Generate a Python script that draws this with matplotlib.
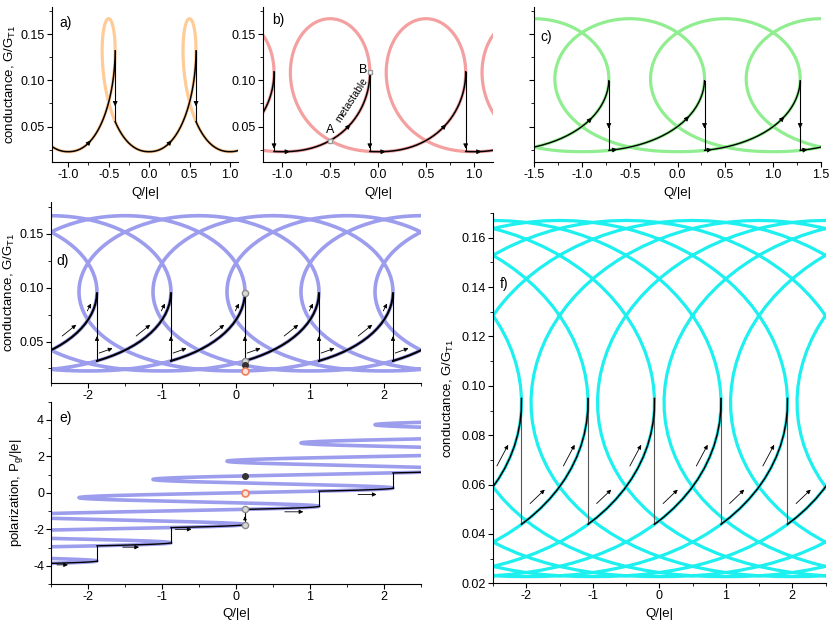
import numpy as np
import matplotlib
matplotlib.use('Agg')
import matplotlib.pyplot as plt
from matplotlib.ticker import MultipleLocator

plt.rcParams['font.family'] = ['Liberation Sans', 'DejaVu Sans']
plt.rcParams['font.size'] = 9
plt.rcParams['axes.unicode_minus'] = False

# ---- values ---------------------------------------------------------------
# sideways swing of Q over a quarter of one loop (1 = widest point)
swing_quarter = [0.0000, 0.0654, 0.1305, 0.1951, 0.2588, 0.3214, 0.3827, 0.4423,
                 0.5000, 0.5556, 0.6088, 0.6593, 0.7071, 0.7518, 0.7934, 0.8315,
                 0.8660, 0.8969, 0.9239, 0.9469, 0.9659, 0.9808, 0.9914, 0.9979, 1.0000]
# conductance over half a loop, 0 = bottom line, 1 = top line
g_profile_half = [0.0000, 0.0005, 0.0025, 0.0060, 0.0113, 0.0185, 0.0274, 0.0383,
                  0.0511, 0.0658, 0.0824, 0.1007, 0.1209, 0.1427, 0.1662, 0.1912,
                  0.2176, 0.2454, 0.2744, 0.3045, 0.3356, 0.3674, 0.4000, 0.4331,
                  0.4665, 0.5002, 0.5339, 0.5676, 0.6009, 0.6339, 0.6663, 0.6979,
                  0.7287, 0.7585, 0.7871, 0.8144, 0.8402, 0.8644, 0.8869, 0.9077,
                  0.9266, 0.9434, 0.9582, 0.9709, 0.9813, 0.9894, 0.9953, 0.9988, 1.0000]
g_bottom, g_top = 0.0227, 0.167

# swing amplitude of each panel (fixed by where the jumps sit)
swing_a, swing_b, swing_c, swing_d, swing_f = 0.285, 0.645, 1.02, 1.865, 3.675

# arrowheads riding on the black path (Q positions)
a_heads = [-0.72, 0.28]
b_heads = [-0.92, 0.08, 1.08, -0.29, 0.71]
c_heads = [-0.895, 0.12, 1.115, -0.63, 0.36, 1.36]
# guide arrows beside the path: start/end, counted from the start of each step
d_guides = [(0.06, 0.24), (0.56, 0.75), (0.90, 0.95)]
f_guides = [(0.16, 0.38), (0.66, 0.83)]
# guide arrows in e: start Q, end Q, P
e_arrow_q0 = [-2.42, -1.53, -0.82, 0.66, 1.65]
e_arrow_q1 = [-2.27, -1.31, -0.60, 0.91, 1.90]
e_arrow_p = [-3.95, -2.98, -2.00, -1.04, -0.09]
# states marked at the jump near Q = 0.1 (branch index)
mark_branch = [-2, -1, 0, 1]

col_a, col_b, col_c, col_d, col_f = '#FFCB96', '#F4A0A0', '#90EE90', '#9D9DEE', '#1EF0F0'

# ---- loop tables ------------------------------------------------------------
N = 96
sq = np.array(swing_quarter)
half = np.r_[sq, sq[-2::-1]]
swing = np.r_[half, -half[1:]]
gp = np.array(g_profile_half)
prof = np.r_[gp, gp[-2::-1]]


def curve(lam, k0, k1):
    k = np.arange(k0, k1 + 1)
    j = k % N
    p = k / N
    return p, p + lam * swing[j], g_bottom + (g_top - g_bottom) * prof[j]


def fold_index(lam):
    j = np.arange(49)
    return int(np.argmax(j / N + lam * swing[:49]))


def branch(lam, m):
    jf = fold_index(lam)
    return curve(lam, N * m - jf, N * m + jf)


def path(lam, xlim, use_p=False):
    qf0 = branch(lam, 0)[1][-1]
    m0 = int(np.floor(xlim[0] - qf0))
    m1 = int(np.ceil(xlim[1] - qf0 + 1))
    segs = []
    for m in range(m0, m1 + 1):
        p, q, g = branch(lam, m)
        y = p if use_p else g
        q0 = q[-1] - 1
        keep = q > q0
        segs.append((np.r_[q0, q[keep]], np.r_[np.interp(q0, q, y), y[keep]]))
    return segs


def head(ax, x, y, x0, y0, ms=7):
    ax.annotate('', xy=(x, y), xytext=(x0, y0),
                arrowprops=dict(arrowstyle='-|>', color='k', lw=0.6,
                                mutation_scale=ms, shrinkA=0, shrinkB=0), zorder=6)


def draw(ax, lam, color, xlim, lw=2.3, blw=1.1, vcol='k', use_p=False):
    p, q, g = curve(lam, -14 * N, 14 * N)
    ax.plot(q, p if use_p else g, color=color, lw=lw, zorder=1)
    segs = path(lam, xlim, use_p)
    for i, (xs, ys) in enumerate(segs):
        ax.plot(xs, ys, color='k', lw=blw, zorder=3)
        if i + 1 < len(segs):
            ax.plot([xs[-1], xs[-1]], [ys[-1], segs[i + 1][1][0]], color=vcol, lw=0.8, zorder=2)
    return segs


def heads_on(ax, segs, qs, ms=7):
    for qa in qs:
        for xs, ys in segs:
            if xs[0] + 0.02 < qa < xs[-1]:
                head(ax, qa, np.interp(qa, xs, ys), qa - 0.02, np.interp(qa - 0.02, xs, ys), ms)


def vheads(ax, segs, y, up=False, ms=7):
    for xs, ys in segs[:-1]:
        d = -0.002 if up else 0.002
        head(ax, xs[-1], y, xs[-1], y + d, ms)


def guides(ax, segs, rel, dq, dy, ms=6):
    for xs, ys in segs:
        for r0, r1 in rel:
            qa, qb = xs[0] + r0, xs[0] + r1
            ya, yb = np.interp([qa, qb], xs, ys)
            ax.annotate('', xy=(qb + dq, yb + dy), xytext=(qa + dq, ya + dy),
                        arrowprops=dict(arrowstyle='-|>', color='k', lw=0.6,
                                        mutation_scale=ms, shrinkA=0, shrinkB=0), zorder=6)


def style(ax, xlim, ylim, xmaj, ymaj):
    ax.set_xlim(xlim)
    ax.set_ylim(ylim)
    ax.spines['top'].set_visible(False)
    ax.spines['right'].set_visible(False)
    for s in ['left', 'bottom']:
        ax.spines[s].set_linewidth(0.8)
    ax.xaxis.set_major_locator(MultipleLocator(xmaj))
    ax.xaxis.set_minor_locator(MultipleLocator(xmaj / 2))
    ax.yaxis.set_major_locator(MultipleLocator(ymaj))
    ax.yaxis.set_minor_locator(MultipleLocator(ymaj / 2))
    ax.tick_params(which='major', length=3.5, width=0.8, labelsize=9, pad=1.5)
    ax.tick_params(which='minor', length=2, width=0.6)


glabel = 'conductance, G/G$_{\\mathregular{T1}}$'
lsize = 9.5

fig = plt.figure(figsize=(8.3, 6.26), dpi=100)
ax_a = fig.add_axes([0.0627, 0.7412, 0.2241, 0.2481])
ax_b = fig.add_axes([0.3169, 0.7412, 0.2771, 0.2481])
ax_c = fig.add_axes([0.6434, 0.7412, 0.3458, 0.2481])
ax_d = fig.add_axes([0.0614, 0.3882, 0.4458, 0.2896])
ax_e = fig.add_axes([0.0614, 0.0671, 0.4458, 0.2912])
ax_f = fig.add_axes([0.5940, 0.0682, 0.4006, 0.5915])

glim = (0.0115, 0.18)

# a)
xl = (-1.2, 1.1)
segs = draw(ax_a, swing_a, col_a, xl)
heads_on(ax_a, segs, a_heads)
vheads(ax_a, segs, 0.072)
style(ax_a, xl, glim, 0.5, 0.05)
ax_a.set_ylabel(glabel, fontsize=lsize, labelpad=2)
ax_a.set_xlabel('Q/|e|', fontsize=lsize)
ax_a.text(0.04, 0.895, 'a)', transform=ax_a.transAxes, fontsize=10, va='center')

# b)
xl = (-1.2, 1.2)
segs = draw(ax_b, swing_b, col_b, xl)
heads_on(ax_b, segs, b_heads)
vheads(ax_b, segs, 0.026)
style(ax_b, xl, glim, 0.5, 0.05)
ax_b.set_xlabel('Q/|e|', fontsize=lsize)
ax_b.text(0.038, 0.914, 'b)', transform=ax_b.transAxes, fontsize=10, va='center')
p, q, g = branch(swing_b, -1)
qa, ga = -0.5, np.interp(-0.5, q, g)
qb, gb = q[-1], g[-1]
ax_b.plot([qa, qb], [ga, gb], ls='none', marker='s', ms=3.5, mfc='white', mec='#999999', mew=1, zorder=7)
ax_b.text(qa, ga + 0.005, 'A', ha='center', va='bottom', fontsize=9)
ax_b.text(qb - 0.03, gb + 0.002, 'B', ha='right', va='center', fontsize=9)
ax_b.text(-0.27, 0.079, 'metastable', rotation=57, fontsize=7.5, ha='center', va='center')

# c)
xl = (-1.5, 1.5)
segs = draw(ax_c, swing_c, col_c, xl, blw=1.0)
heads_on(ax_c, segs, c_heads)
vheads(ax_c, segs, 0.048)
style(ax_c, xl, glim, 0.5, 0.05)
ax_c.tick_params(labelleft=False)
ax_c.set_xlabel('Q/|e|', fontsize=lsize)
ax_c.text(0.021, 0.807, 'c)', transform=ax_c.transAxes, fontsize=10, va='center')

# d)
xl = (-2.5, 2.5)
segs = draw(ax_d, swing_d, col_d, xl, lw=2.6, blw=1.5)
guides(ax_d, segs, d_guides, -0.03, 0.006)
vheads(ax_d, segs, 0.055, up=True, ms=6)
style(ax_d, xl, glim, 1, 0.05)
ax_d.set_ylabel(glabel, fontsize=lsize, labelpad=2)
ax_d.text(0.0135, 0.673, 'd)', transform=ax_d.transAxes, fontsize=10, va='center')

# e)
segs_e = draw(ax_e, swing_d, col_d, xl, lw=2.6, blw=1.0, use_p=True)
for q0, q1, pp in zip(e_arrow_q0, e_arrow_q1, e_arrow_p):
    ax_e.annotate('', xy=(q1, pp), xytext=(q0, pp),
                  arrowprops=dict(arrowstyle='-|>', color='k', lw=0.6,
                                  mutation_scale=6, shrinkA=0, shrinkB=0))
style(ax_e, xl, (-5, 5), 1, 2)
ax_e.set_ylabel('polarization, P$_{\\mathregular{g}}$/|e|', fontsize=lsize, labelpad=6)
ax_e.set_xlabel('Q/|e|', fontsize=lsize)
ax_e.text(0.024, 0.91, 'e)', transform=ax_e.transAxes, fontsize=10, va='center')

# marked states at the jump near Q = 0.1
qm = branch(swing_d, mark_branch[0])[1][-1]
mg, mp = [], []
for n in mark_branch:
    p, q, g = branch(swing_d, n)
    mg.append(np.interp(qm, q, g))
    mp.append(np.interp(qm, q, p))
for ax, ys in [(ax_d, mg), (ax_e, mp)]:
    ax.plot([qm, qm], ys[:2], ls='none', marker='o', ms=4.5, mfc='#D8D8D8', mec='#8C8C8C', mew=1, zorder=7)
    ax.plot(qm, ys[3], ls='none', marker='o', ms=4, mfc='#333333', mec='#333333', zorder=7)
    ax.plot(qm, ys[2], ls='none', marker='o', ms=5, mfc='#FDE3D8', mec='#F08060', mew=1.2, zorder=7)
head(ax_e, qm, mp[0] + 0.55 * (mp[1] - mp[0]), qm, mp[0] + 0.3 * (mp[1] - mp[0]), ms=5)

# f)
segs = draw(ax_f, swing_f, col_f, xl, lw=2.3, blw=1.1, vcol='#555555')
guides(ax_f, segs, f_guides, -0.03, 0.005)
style(ax_f, xl, (0.02, 0.17), 1, 0.02)
ax_f.set_ylabel(glabel, fontsize=lsize, labelpad=4)
ax_f.set_xlabel('Q/|e|', fontsize=lsize)
ax_f.text(0.021, 0.808, 'f)', transform=ax_f.transAxes, fontsize=10, va='center')

fig.savefig('out.png', dpi=100)
